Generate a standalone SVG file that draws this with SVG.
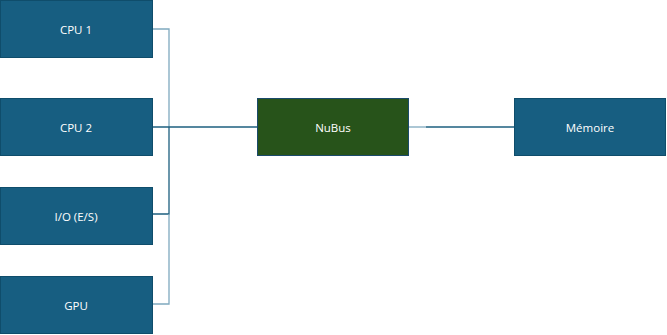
<svg xmlns="http://www.w3.org/2000/svg" width="667" height="335" viewBox="0 0 667 335">
<style>
.box{fill:#175e81;stroke:#0f4d6b;stroke-width:1}
.bus{fill:#27531a;stroke:#1a4a6a;stroke-width:1}
.lbl{font-family:"Open Sans","DejaVu Sans",sans-serif;font-size:11.5px;fill:#ffffff;text-anchor:middle;dominant-baseline:central}
.c{fill:none;stroke:#1d5f7f;stroke-width:1.3}
.cl{fill:none;stroke:#7fa9bf;stroke-width:1.3}
</style>
<rect width="667" height="335" fill="#ffffff"/>
<g id="connectors">
<path class="cl" d="M152,29 H169 V127"/>
<path class="c" d="M169,127 V214 H152"/>
<path class="cl" d="M169,214 V304 H152"/>
<path class="c" d="M152,127 H257"/>
<path class="cl" d="M409,127 H426"/>
<path class="c" d="M426,127 H514"/>
</g>
<g id="cpu1"><rect class="box" x="0.5" y="0.5" width="152" height="57"/><text class="lbl" x="76" y="29">CPU 1</text></g>
<g id="cpu2"><rect class="box" x="0.5" y="98.5" width="152" height="57"/><text class="lbl" x="76" y="127">CPU 2</text></g>
<g id="io"><rect class="box" x="0.5" y="187.5" width="152" height="57"/><text class="lbl" x="76" y="216">I/O (E/S)</text></g>
<g id="gpu"><rect class="box" x="0.5" y="276.5" width="152" height="57"/><text class="lbl" x="76" y="305">GPU</text></g>
<g id="nubus"><rect class="bus" x="257.5" y="98.5" width="151" height="57"/><text class="lbl" x="333" y="127">NuBus</text></g>
<g id="memoire"><rect class="box" x="514.5" y="98.5" width="151" height="57"/><text class="lbl" x="590" y="127">Mémoire</text></g>
</svg>
